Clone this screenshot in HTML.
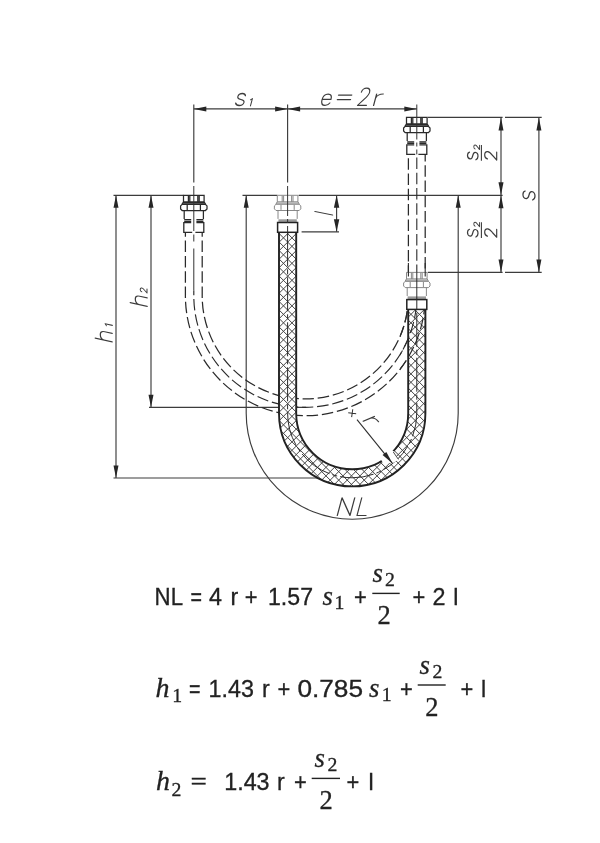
<!DOCTYPE html>
<html><head><meta charset="utf-8"><title>U-bend hose</title>
<style>html,body{margin:0;padding:0;background:#fff;}body{width:600px;height:843px;overflow:hidden;font-family:"Liberation Sans",sans-serif;}svg{display:block;will-change:transform;filter:grayscale(1)}</style>
</head><body>
<svg width="600" height="843" viewBox="0 0 600 843">
<rect width="600" height="843" fill="#fff"/>
<line x1="193.80" y1="108.90" x2="416.80" y2="108.90" stroke="#3c3c3c" stroke-width="1.15" />
<line x1="193.80" y1="104.50" x2="193.80" y2="182.50" stroke="#3c3c3c" stroke-width="1.15" />
<line x1="287.60" y1="104.50" x2="287.60" y2="182.50" stroke="#3c3c3c" stroke-width="1.15" />
<polygon points="193.80,108.90 206.30,106.40 206.30,111.40" fill="#262626"/>
<polygon points="287.60,108.90 275.10,111.40 275.10,106.40" fill="#262626"/>
<polygon points="287.60,108.90 300.10,106.40 300.10,111.40" fill="#262626"/>
<polygon points="416.80,108.90 404.30,111.40 404.30,106.40" fill="#262626"/>
<line x1="113.50" y1="195.30" x2="183.50" y2="195.30" stroke="#3c3c3c" stroke-width="1.15" />
<line x1="242.50" y1="195.30" x2="277.30" y2="195.30" stroke="#3c3c3c" stroke-width="1.15" />
<line x1="298.60" y1="195.30" x2="502.60" y2="195.30" stroke="#3c3c3c" stroke-width="1.15" />
<line x1="116.00" y1="195.30" x2="116.00" y2="478.00" stroke="#3c3c3c" stroke-width="1.15" />
<line x1="113.50" y1="478.00" x2="362.00" y2="478.00" stroke="#3c3c3c" stroke-width="1.15" />
<polygon points="116.00,195.30 118.50,207.80 113.50,207.80" fill="#262626"/>
<polygon points="116.00,478.00 113.50,465.50 118.50,465.50" fill="#262626"/>
<line x1="151.00" y1="195.30" x2="151.00" y2="407.30" stroke="#3c3c3c" stroke-width="1.15" />
<line x1="149.00" y1="407.30" x2="306.00" y2="407.30" stroke="#3c3c3c" stroke-width="1.15" />
<polygon points="151.00,195.30 153.50,207.80 148.50,207.80" fill="#262626"/>
<polygon points="151.00,407.30 148.50,394.80 153.50,394.80" fill="#262626"/>
<line x1="301.60" y1="231.80" x2="339.00" y2="231.80" stroke="#3c3c3c" stroke-width="1.15" />
<line x1="336.60" y1="195.30" x2="336.60" y2="231.80" stroke="#3c3c3c" stroke-width="1.15" />
<polygon points="336.60,195.30 339.30,207.80 333.90,207.80" fill="#262626"/>
<polygon points="336.60,231.80 333.90,219.30 339.30,219.30" fill="#262626"/>
<line x1="427.80" y1="117.40" x2="502.60" y2="117.40" stroke="#3c3c3c" stroke-width="1.15" />
<line x1="505.00" y1="117.40" x2="541.70" y2="117.40" stroke="#3c3c3c" stroke-width="1.15" />
<line x1="427.80" y1="272.40" x2="502.60" y2="272.40" stroke="#3c3c3c" stroke-width="1.15" />
<line x1="505.00" y1="272.40" x2="541.70" y2="272.40" stroke="#3c3c3c" stroke-width="1.15" />
<line x1="501.00" y1="117.40" x2="501.00" y2="272.40" stroke="#3c3c3c" stroke-width="1.15" />
<line x1="538.90" y1="117.40" x2="538.90" y2="272.40" stroke="#3c3c3c" stroke-width="1.15" />
<polygon points="501.00,117.40 503.50,130.40 498.50,130.40" fill="#262626"/>
<polygon points="501.00,195.30 498.50,182.30 503.50,182.30" fill="#262626"/>
<polygon points="501.00,195.30 503.50,208.30 498.50,208.30" fill="#262626"/>
<polygon points="501.00,272.40 498.50,259.40 503.50,259.40" fill="#262626"/>
<polygon points="538.90,117.40 541.40,130.40 536.40,130.40" fill="#262626"/>
<polygon points="538.90,272.40 536.40,259.40 541.40,259.40" fill="#262626"/>
<path d="M246.20,195.3 L246.20,413.2 A106,106 0 0 0 458.20,413.2 L458.20,195.3" stroke="#3c3c3c" stroke-width="1.15" fill="none" />
<polygon points="246.20,195.30 248.70,207.80 243.70,207.80" fill="#262626"/>
<polygon points="458.20,195.30 460.70,207.80 455.70,207.80" fill="#262626"/>
<path d="M202.20,232.3 L202.20,295.8 A103.10,103.10 0 0 0 408.40,295.8 L408.40,154.4" stroke="#2a2a2a" stroke-width="1.25" fill="none" stroke-dasharray="11.5 3.8" stroke-dashoffset="7"/>
<path d="M185.40,232.3 L185.40,295.8 A119.90,119.90 0 0 0 425.20,295.8 L425.20,154.4" stroke="#2a2a2a" stroke-width="1.25" fill="none" stroke-dasharray="11.5 3.8" stroke-dashoffset="7"/>
<path d="M193.80,290.8 L193.80,295.8 A111.50,111.50 0 0 0 416.80,295.8 L416.80,290.8" stroke="#2a2a2a" stroke-width="1.15" fill="none" stroke-dasharray="11.5 3.8" stroke-dashoffset="7"/>
<path d="M279.00,232.3 L279.00,413.2 A73.20,73.20 0 0 0 425.40,413.2 L425.40,309.4 L408.20,309.4 L408.20,413.2 A56.00,56.00 0 0 1 296.20,413.2 L296.20,232.3 Z" fill="#fff" stroke="none"/>
<clipPath id="hc"><path d="M279.00,232.3 L279.00,413.2 A73.20,73.20 0 0 0 425.40,413.2 L425.40,309.4 L408.20,309.4 L408.20,413.2 A56.00,56.00 0 0 1 296.20,413.2 L296.20,232.3 Z"/></clipPath>
<path d="M270,166.30 L440,-3.70 M270,174.80 L440,4.80 M270,183.30 L440,13.30 M270,191.80 L440,21.80 M270,200.30 L440,30.30 M270,208.80 L440,38.80 M270,217.30 L440,47.30 M270,225.80 L440,55.80 M270,234.30 L440,64.30 M270,242.80 L440,72.80 M270,251.30 L440,81.30 M270,259.80 L440,89.80 M270,268.30 L440,98.30 M270,276.80 L440,106.80 M270,285.30 L440,115.30 M270,293.80 L440,123.80 M270,302.30 L440,132.30 M270,310.80 L440,140.80 M270,319.30 L440,149.30 M270,327.80 L440,157.80 M270,336.30 L440,166.30 M270,344.80 L440,174.80 M270,353.30 L440,183.30 M270,361.80 L440,191.80 M270,370.30 L440,200.30 M270,378.80 L440,208.80 M270,387.30 L440,217.30 M270,395.80 L440,225.80 M270,404.30 L440,234.30 M270,412.80 L440,242.80 M270,421.30 L440,251.30 M270,429.80 L440,259.80 M270,438.30 L440,268.30 M270,446.80 L440,276.80 M270,455.30 L440,285.30 M270,463.80 L440,293.80 M270,472.30 L440,302.30 M270,480.80 L440,310.80 M270,489.30 L440,319.30 M270,497.80 L440,327.80 M270,506.30 L440,336.30 M270,514.80 L440,344.80 M270,523.30 L440,353.30 M270,531.80 L440,361.80 M270,540.30 L440,370.30 M270,548.80 L440,378.80 M270,557.30 L440,387.30 M270,565.80 L440,395.80 M270,574.30 L440,404.30 M270,582.80 L440,412.80 M270,591.30 L440,421.30 M270,599.80 L440,429.80 M270,608.30 L440,438.30 M270,616.80 L440,446.80 M270,625.30 L440,455.30 M270,633.80 L440,463.80 M270,642.30 L440,472.30 M270,650.80 L440,480.80 M270,659.30 L440,489.30 M270,572.90 L440,742.90 M270,564.40 L440,734.40 M270,555.90 L440,725.90 M270,547.40 L440,717.40 M270,538.90 L440,708.90 M270,530.40 L440,700.40 M270,521.90 L440,691.90 M270,513.40 L440,683.40 M270,504.90 L440,674.90 M270,496.40 L440,666.40 M270,487.90 L440,657.90 M270,479.40 L440,649.40 M270,470.90 L440,640.90 M270,462.40 L440,632.40 M270,453.90 L440,623.90 M270,445.40 L440,615.40 M270,436.90 L440,606.90 M270,428.40 L440,598.40 M270,419.90 L440,589.90 M270,411.40 L440,581.40 M270,402.90 L440,572.90 M270,394.40 L440,564.40 M270,385.90 L440,555.90 M270,377.40 L440,547.40 M270,368.90 L440,538.90 M270,360.40 L440,530.40 M270,351.90 L440,521.90 M270,343.40 L440,513.40 M270,334.90 L440,504.90 M270,326.40 L440,496.40 M270,317.90 L440,487.90 M270,309.40 L440,479.40 M270,300.90 L440,470.90 M270,292.40 L440,462.40 M270,283.90 L440,453.90 M270,275.40 L440,445.40 M270,266.90 L440,436.90 M270,258.40 L440,428.40 M270,249.90 L440,419.90 M270,241.40 L440,411.40 M270,232.90 L440,402.90 M270,224.40 L440,394.40 M270,215.90 L440,385.90 M270,207.40 L440,377.40 M270,198.90 L440,368.90 M270,190.40 L440,360.40 M270,181.90 L440,351.90 M270,173.40 L440,343.40 M270,164.90 L440,334.90 M270,156.40 L440,326.40 M270,147.90 L440,317.90 M270,139.40 L440,309.40 M270,130.90 L440,300.90 M270,122.40 L440,292.40 M270,113.90 L440,283.90 M270,105.40 L440,275.40 M270,96.90 L440,266.90 M270,88.40 L440,258.40 M270,79.90 L440,249.90 M270,71.40 L440,241.40 M270,62.90 L440,232.90 M270,54.40 L440,224.40 " stroke="#444" stroke-width="1.0" fill="none" clip-path="url(#hc)"/>
<path d="M287.60,232.3 L287.60,413.2 A64.6,64.6 0 0 0 416.80,413.2 L416.80,309.4" stroke="#2a2a2a" stroke-width="1.0" fill="none" stroke-dasharray="34 3 5 3"/>
<path d="M279.00,232.3 L279.00,413.2 A73.20,73.20 0 0 0 425.40,413.2 L425.40,309.4" stroke="#222" stroke-width="1.9" fill="none" />
<path d="M296.20,232.3 L296.20,413.2 A56.00,56.00 0 0 0 408.20,413.2 L408.20,309.4" stroke="#222" stroke-width="1.9" fill="none" />
<clipPath id="rc"><rect x="400" y="300" width="40" height="80"/></clipPath>
<path d="M202.20,232.3 L202.20,295.8 A103.10,103.10 0 0 0 408.40,295.8 L408.40,154.4" stroke="#2a2a2a" stroke-width="1.2" fill="none" stroke-dasharray="11.5 3.8" stroke-dashoffset="7" clip-path="url(#rc)"/>
<path d="M193.80,232.3 L193.80,295.8 A111.50,111.50 0 0 0 416.80,295.8 L416.80,154.4" stroke="#2a2a2a" stroke-width="1.1" fill="none" stroke-dasharray="11.5 3.8" stroke-dashoffset="7" clip-path="url(#rc)"/>
<path d="M185.40,232.3 L185.40,295.8 A119.90,119.90 0 0 0 425.20,295.8 L425.20,154.4" stroke="#2a2a2a" stroke-width="1.2" fill="none" stroke-dasharray="11.5 3.8" stroke-dashoffset="7" clip-path="url(#rc)"/>
<polygon points="379.6,457.6 382.6,462.2 392,463.4 398.8,459.8 394.0,451.4 390.6,449.6" fill="#fff"/>
<line x1="393.30" y1="452.00" x2="398.40" y2="459.40" stroke="#333" stroke-width="0.9" />
<line x1="357.00" y1="419.60" x2="392.59" y2="463.62" stroke="#2e2e2e" stroke-width="1.1" />
<polygon points="392.59,463.62 382.59,454.97 386.34,451.97" fill="#262626"/>
<g transform="translate(352.2,413.2) rotate(8)"><path d="M-4,0 L4,0 M0,-4 L0,4" stroke="#333" stroke-width="1.0" fill="none"/></g>
<rect x="183.50" y="195.30" width="20.6" height="37" fill="#fff"/>
<path d="M183.50,201.8 L183.50,195.3 L204.10,195.3 L204.10,201.8 M188.40,195.8 L188.40,201.8 M189.80,195.8 L189.80,201.8 M197.80,195.8 L197.80,201.8 M199.20,195.8 L199.20,201.8 M183.50,201.8 L204.10,201.8 M183.50,201.8 L182.00,204.3 M204.10,201.8 L205.60,204.3 M182.80,203.10000000000002 L204.80,203.10000000000002 " stroke="#2a2a2a" stroke-width="1.25" fill="none" />
<path d="M182.20,204.3 L205.40,204.3 L207.00,205.9 L207.00,208.9 L205.40,210.5 L182.20,210.5 L180.60,208.9 L180.60,205.9 Z M187.20,204.9 L187.20,209.9 M200.40,204.9 L200.40,209.9 " stroke="#2a2a2a" stroke-width="1.25" fill="#fff" />
<path d="M184.20,210.5 L184.20,218.9 M203.40,210.5 L203.40,218.9 " stroke="#2a2a2a" stroke-width="1.25" fill="none" />
<path d="M184.20,219.70000000000002 L191.20,219.70000000000002 M196.40,219.70000000000002 L203.40,219.70000000000002 M184.20,221.3 L191.20,221.3 M196.40,221.3 L203.40,221.3 " stroke="#2a2a2a" stroke-width="1.3" fill="none" />
<path d="M191.20,222.70000000000002 L183.80,222.70000000000002 L183.80,232.3 L192.20,232.3 M196.40,222.70000000000002 L203.80,222.70000000000002 L203.80,232.3 L195.40,232.3" stroke="#2a2a2a" stroke-width="1.3" fill="none" />
<rect x="277.30" y="195.30" width="20.6" height="37" fill="#fff"/>
<path d="M277.30,201.8 L277.30,195.3 L297.90,195.3 L297.90,201.8 M282.20,195.8 L282.20,201.8 M283.60,195.8 L283.60,201.8 M291.60,195.8 L291.60,201.8 M293.00,195.8 L293.00,201.8 M277.30,201.8 L297.90,201.8 M277.30,201.8 L275.80,204.3 M297.90,201.8 L299.40,204.3 M276.60,203.10000000000002 L298.60,203.10000000000002 " stroke="#7c7c7c" stroke-width="0.9" fill="none" />
<path d="M276.00,204.3 L299.20,204.3 L300.80,205.9 L300.80,208.9 L299.20,210.5 L276.00,210.5 L274.40,208.9 L274.40,205.9 Z M281.00,204.9 L281.00,209.9 M294.20,204.9 L294.20,209.9 " stroke="#7c7c7c" stroke-width="0.9" fill="#fff" />
<path d="M278.00,210.5 L278.00,218.9 M297.20,210.5 L297.20,218.9 " stroke="#7c7c7c" stroke-width="0.9" fill="none" />
<rect x="278.40" y="219.30" width="18.4" height="2.6" fill="#9a9a9a"/>
<rect x="277.60" y="222.50" width="20" height="9.8" fill="#fff" stroke="#222" stroke-width="1.5"/>
<rect x="406.50" y="117.40" width="20.6" height="37" fill="#fff"/>
<path d="M406.50,123.9 L406.50,117.4 L427.10,117.4 L427.10,123.9 M411.40,117.9 L411.40,123.9 M412.80,117.9 L412.80,123.9 M420.80,117.9 L420.80,123.9 M422.20,117.9 L422.20,123.9 M406.50,123.9 L427.10,123.9 M406.50,123.9 L405.00,126.4 M427.10,123.9 L428.60,126.4 M405.80,125.2 L427.80,125.2 " stroke="#2a2a2a" stroke-width="1.25" fill="none" />
<path d="M405.20,126.4 L428.40,126.4 L430.00,128.0 L430.00,131.0 L428.40,132.6 L405.20,132.6 L403.60,131.0 L403.60,128.0 Z M410.20,127.0 L410.20,132.0 M423.40,127.0 L423.40,132.0 " stroke="#2a2a2a" stroke-width="1.25" fill="#fff" />
<path d="M407.20,132.6 L407.20,141.0 M426.40,132.6 L426.40,141.0 " stroke="#2a2a2a" stroke-width="1.25" fill="none" />
<path d="M407.20,141.8 L414.20,141.8 M419.40,141.8 L426.40,141.8 M407.20,143.4 L414.20,143.4 M419.40,143.4 L426.40,143.4 " stroke="#2a2a2a" stroke-width="1.3" fill="none" />
<path d="M414.20,144.8 L406.80,144.8 L406.80,154.4 L415.20,154.4 M419.40,144.8 L426.80,144.8 L426.80,154.4 L418.40,154.4" stroke="#2a2a2a" stroke-width="1.3" fill="none" />
<rect x="406.50" y="272.40" width="20.6" height="37" fill="#fff"/>
<path d="M406.50,278.9 L406.50,272.4 L427.10,272.4 L427.10,278.9 M411.40,272.9 L411.40,278.9 M412.80,272.9 L412.80,278.9 M420.80,272.9 L420.80,278.9 M422.20,272.9 L422.20,278.9 M406.50,278.9 L427.10,278.9 M406.50,278.9 L405.00,281.4 M427.10,278.9 L428.60,281.4 M405.80,280.2 L427.80,280.2 " stroke="#7c7c7c" stroke-width="0.9" fill="none" />
<path d="M405.20,281.4 L428.40,281.4 L430.00,283.0 L430.00,286.0 L428.40,287.59999999999997 L405.20,287.59999999999997 L403.60,286.0 L403.60,283.0 Z M410.20,282.0 L410.20,287.0 M423.40,282.0 L423.40,287.0 " stroke="#7c7c7c" stroke-width="0.9" fill="#fff" />
<path d="M407.20,287.59999999999997 L407.20,296.0 M426.40,287.59999999999997 L426.40,296.0 " stroke="#7c7c7c" stroke-width="0.9" fill="none" />
<rect x="407.60" y="296.40" width="18.4" height="2.6" fill="#9a9a9a"/>
<rect x="406.80" y="299.60" width="20" height="9.8" fill="#fff" stroke="#222" stroke-width="1.5"/>
<line x1="408.40" y1="262.90" x2="408.40" y2="276.40" stroke="#2a2a2a" stroke-width="1.1" />
<line x1="425.20" y1="262.90" x2="425.20" y2="276.40" stroke="#2a2a2a" stroke-width="1.1" />
<line x1="193.80" y1="186.00" x2="193.80" y2="290.80" stroke="#333" stroke-width="1.0" stroke-dasharray="45 3.5 7 7"/>
<line x1="287.60" y1="186.00" x2="287.60" y2="232.30" stroke="#333" stroke-width="1.0" stroke-dasharray="30 3 4 3"/>
<line x1="416.80" y1="104.50" x2="416.80" y2="154.40" stroke="#333" stroke-width="1.0" stroke-dasharray="35 3 4 3"/>
<line x1="416.80" y1="157.40" x2="416.80" y2="272.40" stroke="#2a2a2a" stroke-width="1.1" stroke-dasharray="11.5 3.8"/>
<line x1="416.80" y1="272.40" x2="416.80" y2="309.40" stroke="#2a2a2a" stroke-width="1.0" />
<g transform="translate(235.00,105.50) rotate(0) skewX(-15) scale(1.566,1.714)" fill="none" stroke="#3c3c3c" stroke-width="0.732" stroke-linecap="round" stroke-linejoin="round"><path d="M5,-5.7 C4.6,-6.6 3.8,-7 2.7,-7 C1.2,-7 0.3,-6.3 0.3,-5.2 C0.3,-4.2 1,-3.8 2.7,-3.5 C4.4,-3.2 5.2,-2.8 5.2,-1.8 C5.2,-0.7 4.3,0 2.7,0 C1.4,0 0.5,-0.5 0,-1.4"/></g>
<g transform="translate(248.60,106.00) rotate(0) skewX(-15) scale(0.833,0.750)" fill="none" stroke="#3c3c3c" stroke-width="1.263" stroke-linecap="round" stroke-linejoin="round"><path d="M0.3,-8.2 L2.2,-10 L2.2,0"/></g>
<g transform="translate(320.50,105.40) rotate(0) skewX(-15) scale(1.579,1.620)" fill="none" stroke="#3c3c3c" stroke-width="0.750" stroke-linecap="round" stroke-linejoin="round"><path d="M0.1,-3.7 L5.6,-3.7 C5.7,-5.8 4.7,-7 2.9,-7 C1,-7 0,-5.6 0,-3.5 C0,-1.3 1,0 2.9,0 C4.1,0 5,-0.5 5.5,-1.5"/></g>
<g transform="translate(335.80,105.40) rotate(0) skewX(-15) scale(2.062,1.660)" fill="none" stroke="#3c3c3c" stroke-width="0.645" stroke-linecap="round" stroke-linejoin="round"><path d="M0,-6.2 L6.4,-6.2 M0,-3.5 L6.4,-3.5"/></g>
<g transform="translate(357.50,105.40) rotate(0) skewX(-15) scale(1.508,1.720)" fill="none" stroke="#3c3c3c" stroke-width="0.743" stroke-linecap="round" stroke-linejoin="round"><path d="M0.2,-7.7 C0.4,-9.2 1.5,-10 3,-10 C4.6,-10 5.7,-9 5.7,-7.5 C5.7,-6.1 4.9,-5.1 3.3,-3.6 L0,0 L5.9,0"/></g>
<g transform="translate(373.60,105.40) rotate(0) skewX(-15) scale(1.833,1.620)" fill="none" stroke="#3c3c3c" stroke-width="0.695" stroke-linecap="round" stroke-linejoin="round"><path d="M0,-7 L0,0 M0,-4.4 C0.4,-6.2 1.6,-7 3.6,-7"/></g>
<g transform="translate(337.30,515.50) rotate(0) skewX(-15) scale(1.984,1.770)" fill="none" stroke="#3c3c3c" stroke-width="0.639" stroke-linecap="round" stroke-linejoin="round"><path d="M0,0 L0,-10 L6.4,0 L6.4,-10"/></g>
<g transform="translate(357.00,515.50) rotate(0) skewX(-15) scale(1.731,1.770)" fill="none" stroke="#3c3c3c" stroke-width="0.686" stroke-linecap="round" stroke-linejoin="round"><path d="M0,-10 L0,0 L5.2,0"/></g>
<g transform="translate(363.20,421.20) rotate(52) skewX(-15) scale(1.861,1.680)" fill="none" stroke="#3c3c3c" stroke-width="0.678" stroke-linecap="round" stroke-linejoin="round"><path d="M0,-7 L0,0 M0,-4.4 C0.4,-6.2 1.6,-7 3.6,-7"/></g>
<g transform="translate(332.50,215.00) rotate(-90) skewX(-11) scale(1.250,1.750)" fill="none" stroke="#3c3c3c" stroke-width="0.800" stroke-linecap="round" stroke-linejoin="round"><path d="M0,0 L0,-10"/></g>
<g transform="translate(112.20,341.80) rotate(-90) skewX(-12) scale(1.574,1.700)" fill="none" stroke="#3c3c3c" stroke-width="0.733" stroke-linecap="round" stroke-linejoin="round"><path d="M0,-10 L0,0 M0,-4.6 C0.2,-6.3 1.4,-7 3,-7 C4.7,-7 5.4,-6 5.4,-4.4 L5.4,0"/></g>
<g transform="translate(112.40,327.20) rotate(-90) skewX(-12) scale(0.833,0.730)" fill="none" stroke="#3c3c3c" stroke-width="1.279" stroke-linecap="round" stroke-linejoin="round"><path d="M0.3,-8.2 L2.2,-10 L2.2,0"/></g>
<g transform="translate(147.20,306.30) rotate(-90) skewX(-12) scale(1.574,1.700)" fill="none" stroke="#3c3c3c" stroke-width="0.733" stroke-linecap="round" stroke-linejoin="round"><path d="M0,-10 L0,0 M0,-4.6 C0.2,-6.3 1.4,-7 3,-7 C4.7,-7 5.4,-6 5.4,-4.4 L5.4,0"/></g>
<g transform="translate(147.00,293.00) rotate(-90) skewX(-12) scale(0.678,0.680)" fill="none" stroke="#3c3c3c" stroke-width="1.473" stroke-linecap="round" stroke-linejoin="round"><path d="M0.2,-7.7 C0.4,-9.2 1.5,-10 3,-10 C4.6,-10 5.7,-9 5.7,-7.5 C5.7,-6.1 4.9,-5.1 3.3,-3.6 L0,0 L5.9,0"/></g>
<g transform="translate(535.00,200.30) rotate(-90) skewX(-8) scale(1.585,1.720)" fill="none" stroke="#3c3c3c" stroke-width="0.726" stroke-linecap="round" stroke-linejoin="round"><path d="M5,-5.7 C4.6,-6.6 3.8,-7 2.7,-7 C1.2,-7 0.3,-6.3 0.3,-5.2 C0.3,-4.2 1,-3.8 2.7,-3.5 C4.4,-3.2 5.2,-2.8 5.2,-1.8 C5.2,-0.7 4.3,0 2.7,0 C1.4,0 0.5,-0.5 0,-1.4"/></g>
<g transform="translate(478.00,160.00) rotate(-90) skewX(-5) scale(1.434,1.500)" fill="none" stroke="#3c3c3c" stroke-width="0.818" stroke-linecap="round" stroke-linejoin="round"><path d="M5,-5.7 C4.6,-6.6 3.8,-7 2.7,-7 C1.2,-7 0.3,-6.3 0.3,-5.2 C0.3,-4.2 1,-3.8 2.7,-3.5 C4.4,-3.2 5.2,-2.8 5.2,-1.8 C5.2,-0.7 4.3,0 2.7,0 C1.4,0 0.5,-0.5 0,-1.4"/></g>
<g transform="translate(479.50,149.50) rotate(-90) skewX(-5) scale(0.712,0.570)" fill="none" stroke="#3c3c3c" stroke-width="1.560" stroke-linecap="round" stroke-linejoin="round"><path d="M0.2,-7.7 C0.4,-9.2 1.5,-10 3,-10 C4.6,-10 5.7,-9 5.7,-7.5 C5.7,-6.1 4.9,-5.1 3.3,-3.6 L0,0 L5.9,0"/></g>
<line x1="481.40" y1="145.00" x2="481.40" y2="160.70" stroke="#3c3c3c" stroke-width="1.1" />
<g transform="translate(496.70,160.00) rotate(-90) skewX(-5) scale(1.322,1.200)" fill="none" stroke="#3c3c3c" stroke-width="0.952" stroke-linecap="round" stroke-linejoin="round"><path d="M0.2,-7.7 C0.4,-9.2 1.5,-10 3,-10 C4.6,-10 5.7,-9 5.7,-7.5 C5.7,-6.1 4.9,-5.1 3.3,-3.6 L0,0 L5.9,0"/></g>
<g transform="translate(478.00,237.20) rotate(-90) skewX(-5) scale(1.434,1.500)" fill="none" stroke="#3c3c3c" stroke-width="0.818" stroke-linecap="round" stroke-linejoin="round"><path d="M5,-5.7 C4.6,-6.6 3.8,-7 2.7,-7 C1.2,-7 0.3,-6.3 0.3,-5.2 C0.3,-4.2 1,-3.8 2.7,-3.5 C4.4,-3.2 5.2,-2.8 5.2,-1.8 C5.2,-0.7 4.3,0 2.7,0 C1.4,0 0.5,-0.5 0,-1.4"/></g>
<g transform="translate(479.50,226.70) rotate(-90) skewX(-5) scale(0.712,0.570)" fill="none" stroke="#3c3c3c" stroke-width="1.560" stroke-linecap="round" stroke-linejoin="round"><path d="M0.2,-7.7 C0.4,-9.2 1.5,-10 3,-10 C4.6,-10 5.7,-9 5.7,-7.5 C5.7,-6.1 4.9,-5.1 3.3,-3.6 L0,0 L5.9,0"/></g>
<line x1="481.40" y1="222.20" x2="481.40" y2="237.90" stroke="#3c3c3c" stroke-width="1.1" />
<g transform="translate(496.70,237.20) rotate(-90) skewX(-5) scale(1.322,1.200)" fill="none" stroke="#3c3c3c" stroke-width="0.952" stroke-linecap="round" stroke-linejoin="round"><path d="M0.2,-7.7 C0.4,-9.2 1.5,-10 3,-10 C4.6,-10 5.7,-9 5.7,-7.5 C5.7,-6.1 4.9,-5.1 3.3,-3.6 L0,0 L5.9,0"/></g>
<text x="154.6" y="604.8" font-size="23.2" font-family="Liberation Sans, sans-serif" fill="#222" stroke="#222" stroke-width="0.3" textLength="28.4" lengthAdjust="spacingAndGlyphs">NL</text>
<text x="190.6" y="604.8" font-size="23.2" font-family="Liberation Sans, sans-serif" fill="#222" stroke="#222" stroke-width="0.3" textLength="11.5" lengthAdjust="spacingAndGlyphs">=</text>
<text x="209" y="604.8" font-size="23.2" font-family="Liberation Sans, sans-serif" fill="#222" stroke="#222" stroke-width="0.3" textLength="13" lengthAdjust="spacingAndGlyphs">4</text>
<text x="230.6" y="604.8" font-size="23.2" font-family="Liberation Sans, sans-serif" fill="#222" stroke="#222" stroke-width="0.3">r</text>
<text x="244.8" y="604.8" font-size="23.2" font-family="Liberation Sans, sans-serif" fill="#222" stroke="#222" stroke-width="0.3" textLength="12.8" lengthAdjust="spacingAndGlyphs">+</text>
<text x="268" y="604.8" font-size="23.2" font-family="Liberation Sans, sans-serif" fill="#222" stroke="#222" stroke-width="0.3" textLength="45" lengthAdjust="spacingAndGlyphs">1.57</text>
<text x="322.4" y="604.8" font-size="27" font-family="Liberation Serif, serif" font-style="italic" fill="#222" stroke="#222" stroke-width="0.3" textLength="10.4" lengthAdjust="spacingAndGlyphs">s</text>
<text x="334.6" y="609.4" font-size="19.8" font-family="Liberation Serif, serif" fill="#222" stroke="#222" stroke-width="0.3">1</text>
<text x="354" y="604.8" font-size="23.2" font-family="Liberation Sans, sans-serif" fill="#222" stroke="#222" stroke-width="0.3" textLength="12.8" lengthAdjust="spacingAndGlyphs">+</text>
<rect x="372.3" y="592.6999999999999" width="27.399999999999977" height="1.4" fill="#222"/>
<text x="372.6" y="582.0" font-size="27" font-family="Liberation Serif, serif" font-style="italic" fill="#222" stroke="#222" stroke-width="0.3" textLength="10.4" lengthAdjust="spacingAndGlyphs">s</text>
<text x="385" y="586.3" font-size="19.8" font-family="Liberation Serif, serif" fill="#222" stroke="#222" stroke-width="0.3">2</text>
<text x="377.4" y="623.9" font-size="26.5" font-family="Liberation Serif, serif" fill="#222" stroke="#222" stroke-width="0.3">2</text>
<text x="412.6" y="604.8" font-size="23.2" font-family="Liberation Sans, sans-serif" fill="#222" stroke="#222" stroke-width="0.3" textLength="12.8" lengthAdjust="spacingAndGlyphs">+</text>
<text x="432.6" y="604.8" font-size="23.2" font-family="Liberation Sans, sans-serif" fill="#222" stroke="#222" stroke-width="0.3" textLength="13" lengthAdjust="spacingAndGlyphs">2</text>
<text x="453.2" y="604.8" font-size="23.2" font-family="Liberation Sans, sans-serif" fill="#222" stroke="#222" stroke-width="0.3">l</text>
<text x="155.5" y="696.8" font-size="27" font-family="Liberation Serif, serif" font-style="italic" fill="#222" stroke="#222" stroke-width="0.3" textLength="14" lengthAdjust="spacingAndGlyphs">h</text>
<text x="172.3" y="702.4" font-size="19.8" font-family="Liberation Serif, serif" fill="#222" stroke="#222" stroke-width="0.3">1</text>
<text x="189" y="696.8" font-size="23.2" font-family="Liberation Sans, sans-serif" fill="#222" stroke="#222" stroke-width="0.3" textLength="11.5" lengthAdjust="spacingAndGlyphs">=</text>
<text x="208.6" y="696.8" font-size="23.2" font-family="Liberation Sans, sans-serif" fill="#222" stroke="#222" stroke-width="0.3" textLength="45.4" lengthAdjust="spacingAndGlyphs">1.43</text>
<text x="262" y="696.8" font-size="23.2" font-family="Liberation Sans, sans-serif" fill="#222" stroke="#222" stroke-width="0.3">r</text>
<text x="277.6" y="696.8" font-size="23.2" font-family="Liberation Sans, sans-serif" fill="#222" stroke="#222" stroke-width="0.3" textLength="12.8" lengthAdjust="spacingAndGlyphs">+</text>
<text x="297.4" y="696.8" font-size="23.2" font-family="Liberation Sans, sans-serif" fill="#222" stroke="#222" stroke-width="0.3" textLength="65.6" lengthAdjust="spacingAndGlyphs">0.785</text>
<text x="369" y="696.8" font-size="27" font-family="Liberation Serif, serif" font-style="italic" fill="#222" stroke="#222" stroke-width="0.3" textLength="10.4" lengthAdjust="spacingAndGlyphs">s</text>
<text x="381.8" y="701.4" font-size="19.8" font-family="Liberation Serif, serif" fill="#222" stroke="#222" stroke-width="0.3">1</text>
<text x="400" y="696.8" font-size="23.2" font-family="Liberation Sans, sans-serif" fill="#222" stroke="#222" stroke-width="0.3" textLength="12.8" lengthAdjust="spacingAndGlyphs">+</text>
<rect x="417.7" y="684.3" width="28.0" height="1.4" fill="#222"/>
<text x="419.4" y="673.6" font-size="27" font-family="Liberation Serif, serif" font-style="italic" fill="#222" stroke="#222" stroke-width="0.3" textLength="10.4" lengthAdjust="spacingAndGlyphs">s</text>
<text x="432.4" y="677.9" font-size="19.8" font-family="Liberation Serif, serif" fill="#222" stroke="#222" stroke-width="0.3">2</text>
<text x="425.2" y="715.5" font-size="26.5" font-family="Liberation Serif, serif" fill="#222" stroke="#222" stroke-width="0.3">2</text>
<text x="460.4" y="696.8" font-size="23.2" font-family="Liberation Sans, sans-serif" fill="#222" stroke="#222" stroke-width="0.3" textLength="12.8" lengthAdjust="spacingAndGlyphs">+</text>
<text x="481" y="696.8" font-size="23.2" font-family="Liberation Sans, sans-serif" fill="#222" stroke="#222" stroke-width="0.3">l</text>
<text x="156" y="790.2" font-size="27" font-family="Liberation Serif, serif" font-style="italic" fill="#222" stroke="#222" stroke-width="0.3" textLength="14" lengthAdjust="spacingAndGlyphs">h</text>
<text x="171.6" y="795.6" font-size="19.8" font-family="Liberation Serif, serif" fill="#222" stroke="#222" stroke-width="0.3">2</text>
<text x="190.6" y="790.2" font-size="26" font-family="Liberation Serif, serif" fill="#222" stroke="#222" stroke-width="0.3" textLength="16.4" lengthAdjust="spacingAndGlyphs">=</text>
<text x="224.2" y="790.2" font-size="23.2" font-family="Liberation Sans, sans-serif" fill="#222" stroke="#222" stroke-width="0.3" textLength="45.4" lengthAdjust="spacingAndGlyphs">1.43</text>
<text x="277" y="790.2" font-size="23.2" font-family="Liberation Sans, sans-serif" fill="#222" stroke="#222" stroke-width="0.3">r</text>
<text x="294" y="790.2" font-size="23.2" font-family="Liberation Sans, sans-serif" fill="#222" stroke="#222" stroke-width="0.3" textLength="12.8" lengthAdjust="spacingAndGlyphs">+</text>
<rect x="311.7" y="777.6999999999999" width="28.30000000000001" height="1.4" fill="#222"/>
<text x="314.6" y="767.0" font-size="27" font-family="Liberation Serif, serif" font-style="italic" fill="#222" stroke="#222" stroke-width="0.3" textLength="10.4" lengthAdjust="spacingAndGlyphs">s</text>
<text x="327.4" y="771.3" font-size="19.8" font-family="Liberation Serif, serif" fill="#222" stroke="#222" stroke-width="0.3">2</text>
<text x="319.4" y="808.9" font-size="26.5" font-family="Liberation Serif, serif" fill="#222" stroke="#222" stroke-width="0.3">2</text>
<text x="346.4" y="790.2" font-size="23.2" font-family="Liberation Sans, sans-serif" fill="#222" stroke="#222" stroke-width="0.3" textLength="12.8" lengthAdjust="spacingAndGlyphs">+</text>
<text x="368.6" y="790.2" font-size="23.2" font-family="Liberation Sans, sans-serif" fill="#222" stroke="#222" stroke-width="0.3">l</text>
</svg>
</body></html>
